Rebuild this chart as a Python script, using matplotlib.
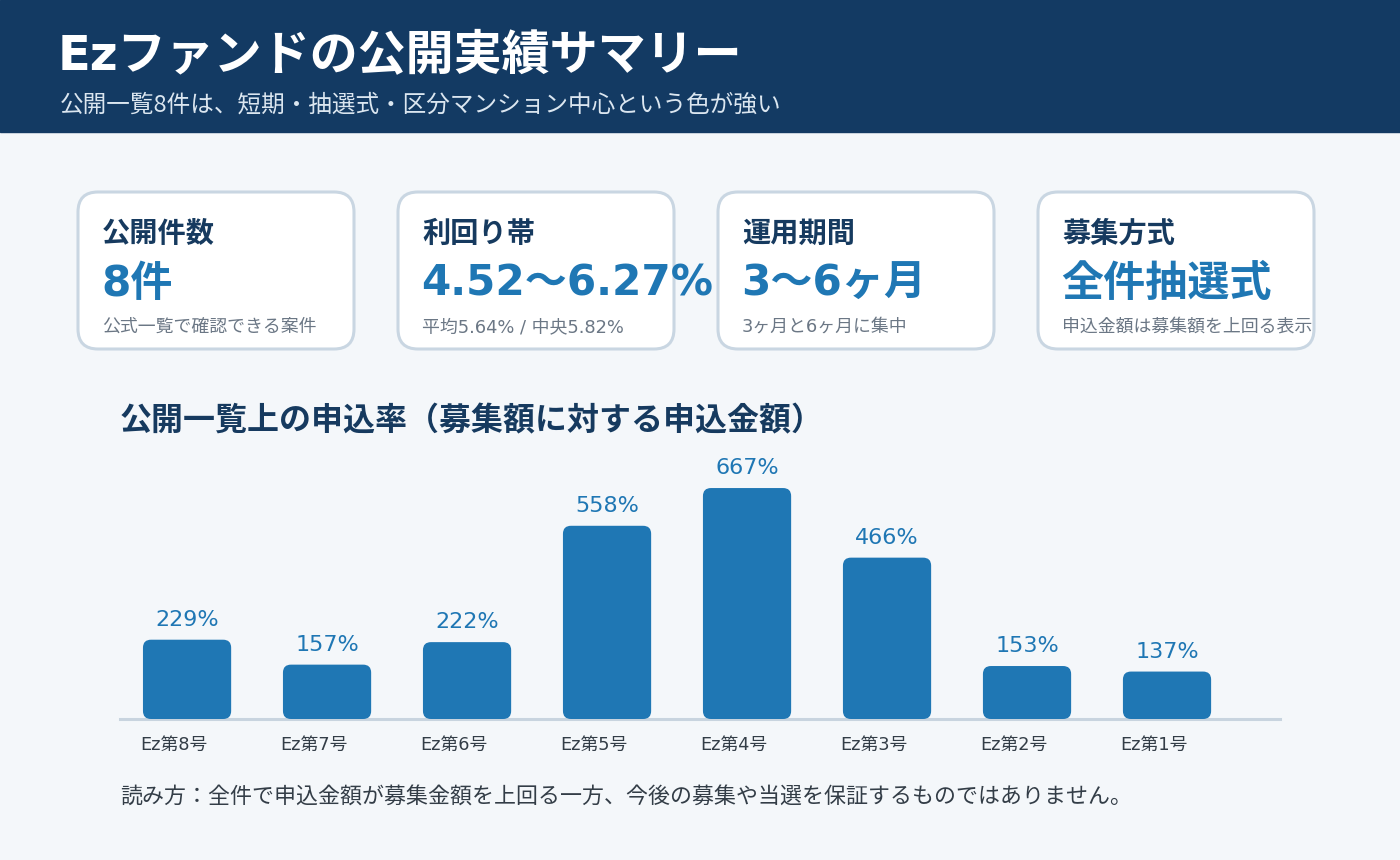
import matplotlib
matplotlib.use("Agg")
import matplotlib.pyplot as plt
from matplotlib.patches import FancyBboxPatch, Rectangle

plt.rcParams['font.family'] = ['Noto Sans CJK JP', 'DejaVu Sans']
# latin/digit-first list: wider digits like the reference
NUMFONT = ['DejaVu Sans', 'Noto Sans CJK JP']

# ── data ─────────────────────────────────────────────────────────────
title = "Ezファンドの公開実績サマリー"
subtitle = "公開一覧8件は、短期・抽選式・区分マンション中心という色が強い"

card_labels = ["公開件数", "利回り帯", "運用期間", "募集方式"]
card_values = ["8件", "4.52〜6.27%", "3〜6ヶ月", "全件抽選式"]
card_notes = ["公式一覧で確認できる案件", "平均5.64% / 中央5.82%",
              "3ヶ月と6ヶ月に集中", "申込金額は募集額を上回る表示"]

chart_title = "公開一覧上の申込率（募集額に対する申込金額）"
funds = ["Ez第8号", "Ez第7号", "Ez第6号", "Ez第5号",
         "Ez第4号", "Ez第3号", "Ez第2号", "Ez第1号"]
rates = [229, 157, 222, 558, 667, 466, 153, 137]
footnote = "読み方：全件で申込金額が募集金額を上回る一方、今後の募集や当選を保証するものではありません。"

# ── colours ──────────────────────────────────────────────────────────
NAVY = "#133a63"
BG = "#f4f7fa"
BLUE = "#1f77b4"
BORDER = "#c9d6e2"
DARK = "#163a5f"
GRAY = "#6b7785"
TEXT = "#333d47"

W, H = 1400, 860
fig = plt.figure(figsize=(W / 100, H / 100), dpi=100)
fig.patch.set_facecolor(BG)

# background layer in pixel coordinates
bg = fig.add_axes([0, 0, 1, 1])
bg.set_xlim(0, W)
bg.set_ylim(H, 0)
bg.axis("off")

bg.add_patch(Rectangle((0, 0), W, 132, color=NAVY, zorder=0))
bg.text(58, 57, title, color="white", fontsize=34.6, fontweight="bold",
        va="center", family=NUMFONT)
bg.text(60, 105, subtitle, color="#dbe6f0", fontsize=17, va="center")

# cards
for i, (lab, val, note) in enumerate(zip(card_labels, card_values, card_notes)):
    x0 = 78 + i * 320
    bg.add_patch(FancyBboxPatch((x0 + 20, 212), 276 - 40, 157 - 40,
                                boxstyle="round,pad=20",
                                facecolor="white", edgecolor=BORDER,
                                linewidth=2.2, zorder=1))
    bg.text(x0 + 24, 234, lab, color=DARK, fontsize=20.3, fontweight="bold",
            va="center", zorder=2)
    bg.text(x0 + 23, 284, val, color=BLUE, fontsize=30.3, fontweight="bold",
            va="center", zorder=2, family=NUMFONT)
    bg.text(x0 + 24, 327, note, color=GRAY, fontsize=12.9, va="center",
            zorder=2, family=NUMFONT)

bg.text(120, 421, chart_title, color=DARK, fontsize=23, fontweight="bold", va="center")
bg.text(120, 798, footnote, color=TEXT, fontsize=15.8, va="center")

# ── bar chart ────────────────────────────────────────────────────────
ax_left, ax_right, base_y, ax_top = 120, 1280, 719, 460
ax = fig.add_axes([ax_left / W, (H - base_y) / H,
                   (ax_right - ax_left) / W, (base_y - ax_top) / H])
ax.set_facecolor("none")
ymax = 748
ax.set_ylim(0, ymax)
ax.set_xlim(-0.479, 7.807)
ax.axis("off")

bar_w = 0.63
px_per_x = (ax_right - ax_left) / (7.807 + 0.479)
px_per_y = (base_y - ax_top) / ymax
r = 8  # corner radius in px
for i, (f, v) in enumerate(zip(funds, rates)):
    rx = r / px_per_x
    ry = r / px_per_y
    ax.add_patch(FancyBboxPatch((i - bar_w / 2 + rx, ry), bar_w - 2 * rx,
                                max(v - 2 * ry, 0.01),
                                boxstyle=f"round,pad={rx}",
                                mutation_aspect=ry / rx,
                                facecolor=BLUE, edgecolor="none", zorder=2))
    ax.text(i, v + 20 / px_per_y, f"{v}%", color=BLUE, fontsize=16,
            ha="center", va="center", family=NUMFONT)
    ax.text(i - bar_w / 2 - 3 / px_per_x, -26 / px_per_y, f, color=TEXT,
            fontsize=12.8, ha="left", va="center", clip_on=False, family=NUMFONT)

ax.axhline(0, color="#c8d4df", linewidth=2.2, zorder=1, clip_on=False)

fig.savefig("out.png", dpi=100, facecolor=BG)
